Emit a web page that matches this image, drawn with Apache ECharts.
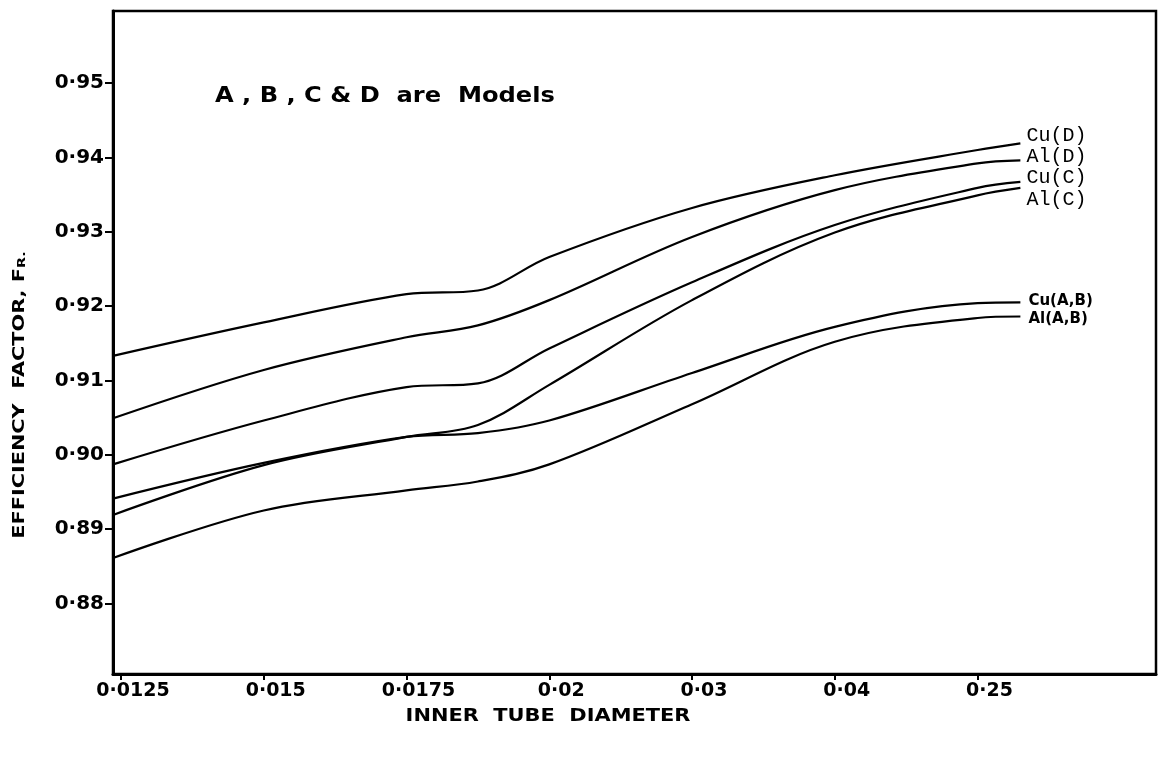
<!DOCTYPE html>
<html><head><meta charset="utf-8">
<script src="https://cdn.jsdelivr.net/npm/echarts@6/dist/echarts.min.js"></script>
<style>html,body{margin:0;padding:0;background:#fff}#c{width:1161px;height:765px}</style>
</head><body><div id="c"></div>
<script>
// category tick labels (x positions 0..6)
const xTickLabels = ['0·0125','0·015','0·0175','0·02','0·03','0·04','0·25'];
const yTicks = [0.88,0.89,0.90,0.91,0.92,0.93,0.94,0.95];
const yTickLabels = ['0·88','0·89','0·90','0·91','0·92','0·93','0·94','0·95'];
// sample positions along the category axis
const xs = [-0.056, 1, 2, 2.5, 3, 4, 5, 6, 6.3];
const cuD  = [0.9133,0.9178,0.9216,0.9221,0.9266,0.9332,0.9376,0.9410,0.9419];
const alD  = [0.9049,0.9114,0.9158,0.9174,0.9208,0.9293,0.9356,0.9392,0.9396];
const cuC  = [0.8987,0.9046,0.9091,0.9096,0.9143,0.9232,0.9309,0.9359,0.9367];
const alC  = [0.8919,0.8986,0.9024,0.9040,0.9094,0.9208,0.9299,0.9349,0.9359];
const cuAB = [0.8941,0.8989,0.9024,0.9029,0.9046,0.9110,0.9172,0.9204,0.9205];
const alAB = [0.8861,0.8925,0.8952,0.8964,0.8987,0.9068,0.9152,0.9184,0.9186];
const seriesNames = ['Cu(D)','Al(D)','Cu(C)','Al(C)','Cu(A,B)','Al(A,B)'];

const chart = echarts.init(document.getElementById('c'));
const pair = arr => xs.map((x,i)=>[x,arr[i]]);
const monoLbl = {fontFamily:'Liberation Mono', fontSize:20, color:'#000'};
const boldLbl = {fontFamily:'DejaVu Sans', fontWeight:'bold', fontSize:15, color:'#000'};
const lblStyles = [
  Object.assign({offset:[2,-8]}, monoLbl),
  Object.assign({offset:[2,-4]}, monoLbl),
  Object.assign({offset:[2,-4]}, monoLbl),
  Object.assign({offset:[2,12]}, monoLbl),
  Object.assign({offset:[4,-1]}, boldLbl),
  Object.assign({offset:[4,3]}, boldLbl)
];
const datas = [cuD, alD, cuC, alC, cuAB, alAB];
const series = datas.map((d,i)=>({
  name: seriesNames[i], type:'line', smooth:0.35, showSymbol:false,
  lineStyle:{color:'#000', width:2.2},
  data: pair(d),
  endLabel: Object.assign({show:true, formatter: seriesNames[i], distance:4}, lblStyles[i])
}));

chart.setOption({
  animation:false,
  grid:{left:113, top:11, right:5, bottom:91, show:true, borderColor:'#000', borderWidth:2.5},
  xAxis:{type:'value', min:-0.056, max:7.25,
    axisLine:{onZero:false, lineStyle:{color:'#000', width:3}},
    splitLine:{show:false},
    axisTick:{show:true, customValues:[0,1,2,3,4,5,6], length:6, lineStyle:{color:'#000',width:2}},
    axisLabel:{customValues:[0,1,2,3,4,5,6], formatter:v=>xTickLabels[Math.round(v)],
      fontFamily:'DejaVu Sans', fontWeight:'bold', fontSize:19, color:'#000', margin:8, padding:[0,0,0,24]}
  },
  yAxis:{type:'value', min:0.8705, max:0.9597,
    axisLine:{show:true, onZero:false, lineStyle:{color:'#000', width:3}},
    splitLine:{show:false},
    axisTick:{show:true, customValues:yTicks, length:8, lineStyle:{color:'#000',width:2}},
    axisLabel:{customValues:yTicks, formatter:v=>yTickLabels[yTicks.findIndex(t=>Math.abs(t-v)<1e-6)],
      fontFamily:'DejaVu Sans', fontWeight:'bold', fontSize:20, color:'#000', margin:9}
  },
  graphic:[
    {type:'text', x:215, y:97, scaleX:1.15, style:{text:'A , B , C & D  are  Models', fontFamily:'DejaVu Sans', fontWeight:'bold', fontSize:21, fill:'#000', verticalAlign:'middle'}},
    {type:'text', x:548, y:717, scaleX:1.23, style:{text:'INNER  TUBE  DIAMETER', fontFamily:'DejaVu Sans', fontWeight:'bold', fontSize:17, fill:'#000', align:'center', verticalAlign:'middle'}},
    {type:'text', x:20, y:395, rotation:Math.PI/2, scaleX:1.3, style:{text:'EFFICIENCY  FACTOR, F{s|R.}', fontFamily:'DejaVu Sans', fontWeight:'bold', fontSize:16, fill:'#000', align:'center', verticalAlign:'middle',
      rich:{s:{fontFamily:'DejaVu Sans', fontWeight:'bold', fontSize:11, fill:'#000', verticalAlign:'bottom'}}}}
  ],
  series: series
});
</script></body></html>
